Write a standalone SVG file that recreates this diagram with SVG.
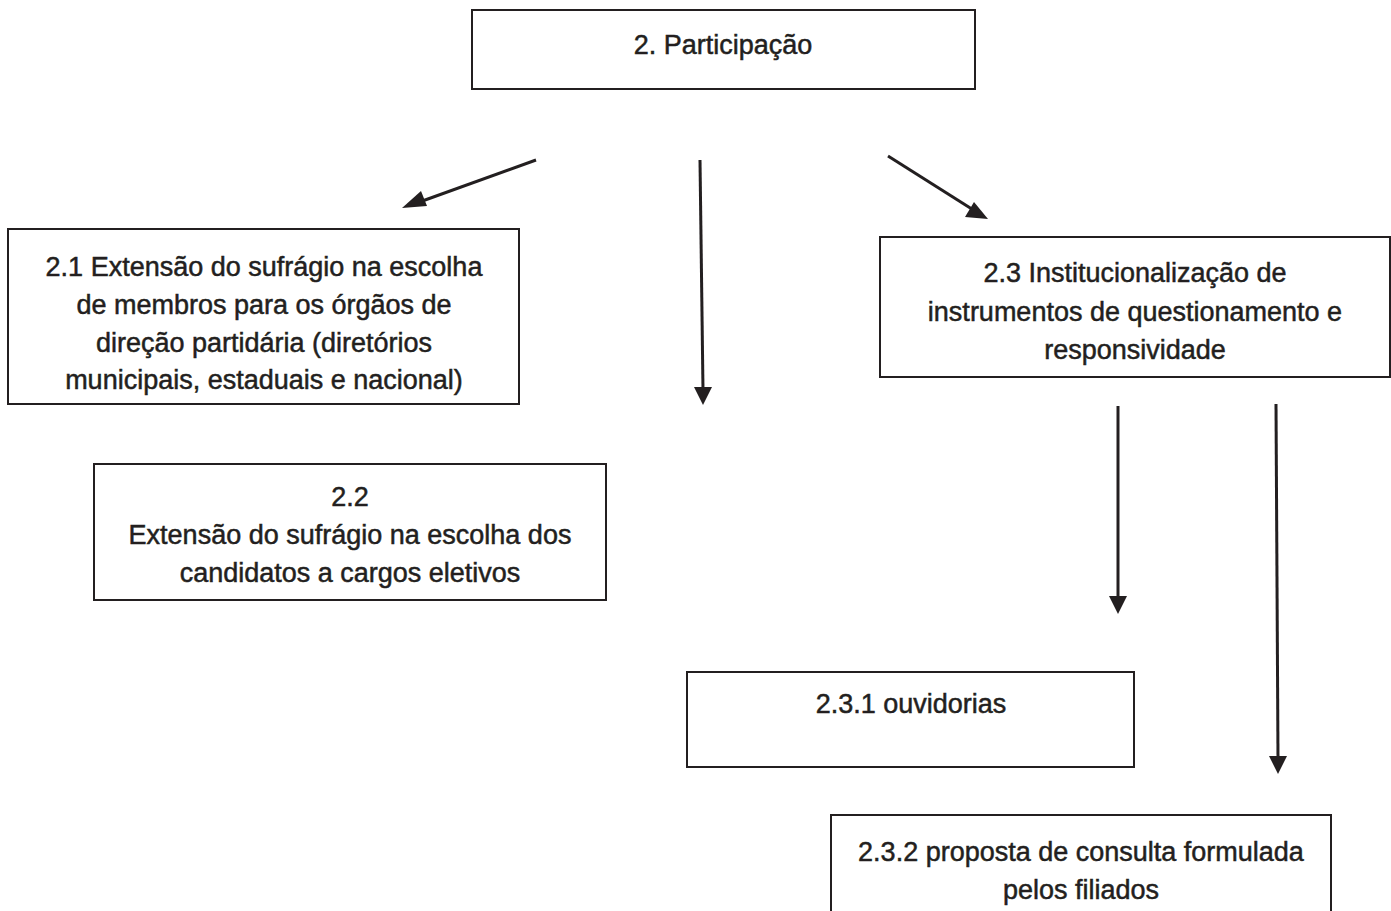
<svg xmlns="http://www.w3.org/2000/svg" width="1391" height="911" viewBox="0 0 1391 911">
<style>
.box{fill:#fff;stroke:#231f20;stroke-width:2}
.t{font-family:"Liberation Sans",Arial,sans-serif;font-size:27px;fill:#231f20;stroke:#231f20;stroke-width:0.5;text-anchor:middle}
.c{stroke:#231f20;stroke-width:3;fill:none}
.h{fill:#231f20}
</style>
<rect width="1391" height="911" fill="#fff"/>
<g id="connectors">
<line class="c" x1="536" y1="160" x2="414" y2="204"/>
<polygon class="h" points="402,208 421,191 427,206"/>
<line class="c" x1="700" y1="160" x2="703" y2="390"/>
<polygon class="h" points="694,387 712,387 703,405"/>
<line class="c" x1="888" y1="156" x2="975" y2="211"/>
<polygon class="h" points="988,219 965,217 974,202"/>
<line class="c" x1="1118" y1="406" x2="1118" y2="598"/>
<polygon class="h" points="1109,596 1127,596 1118,614"/>
<line class="c" x1="1276" y1="404" x2="1278" y2="758"/>
<polygon class="h" points="1269,756 1287,756 1278,774"/>
</g>
<g id="n2">
<rect class="box" x="472" y="10" width="503" height="79"/>
<text class="t" x="723" y="54">2. Participação</text>
</g>
<g id="n21">
<rect class="box" x="8" y="229" width="511" height="175"/>
<text class="t" x="264" y="276">2.1 Extensão do sufrágio na escolha</text>
<text class="t" x="264" y="314">de membros para os órgãos de</text>
<text class="t" x="264" y="352">direção partidária (diretórios</text>
<text class="t" x="264" y="389">municipais, estaduais e nacional)</text>
</g>
<g id="n22">
<rect class="box" x="94" y="464" width="512" height="136"/>
<text class="t" x="350" y="506">2.2</text>
<text class="t" x="350" y="544">Extensão do sufrágio na escolha dos</text>
<text class="t" x="350" y="582">candidatos a cargos eletivos</text>
</g>
<g id="n23">
<rect class="box" x="880" y="237" width="510" height="140"/>
<text class="t" x="1135" y="282">2.3 Institucionalização de</text>
<text class="t" x="1135" y="321">instrumentos de questionamento e</text>
<text class="t" x="1135" y="359">responsividade</text>
</g>
<g id="n231">
<rect class="box" x="687" y="672" width="447" height="95"/>
<text class="t" x="911" y="713">2.3.1 ouvidorias</text>
</g>
<g id="n232">
<rect class="box" x="831" y="815" width="500" height="100"/>
<text class="t" x="1081" y="861">2.3.2 proposta de consulta formulada</text>
<text class="t" x="1081" y="899">pelos filiados</text>
</g>
</svg>
